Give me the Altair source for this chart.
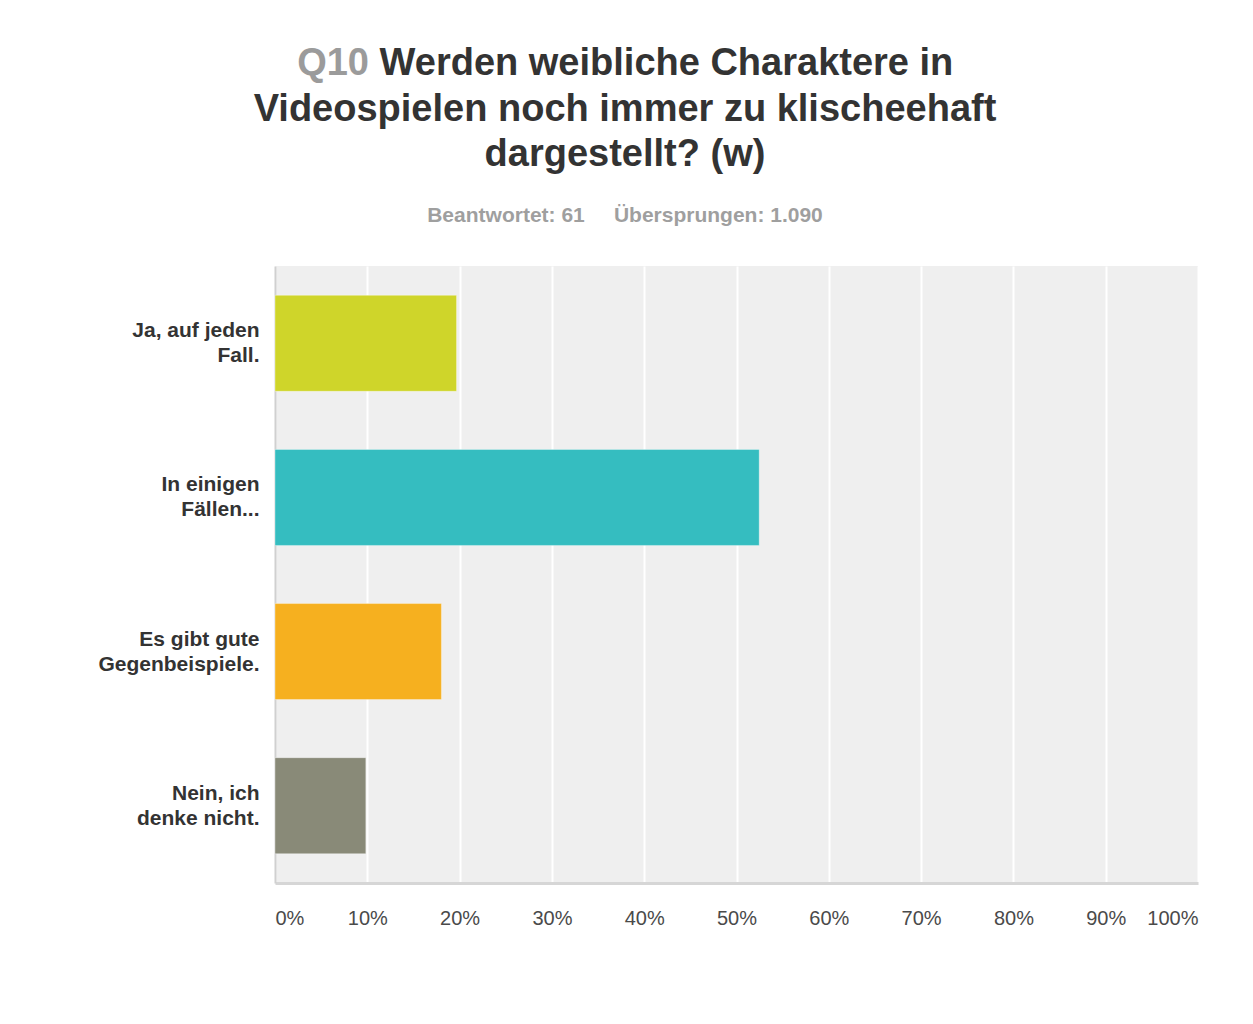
import altair as alt
import pandas as pd

categories = ["Ja, auf jeden\nFall.", "In einigen\nFällen...", "Es gibt gute\nGegenbeispiele.", "Nein, ich\ndenke nicht."]
percents = [19.67, 52.46, 18.03, 9.84]
colors = ["#cfd52a", "#35bdc0", "#f6b01f", "#898a78"]
x_ticks = [0, 10, 20, 30, 40, 50, 60, 70, 80, 90, 100]

title_q = "Q10"
title_line1 = "Werden weibliche Charaktere in"
title_line2 = "Videospielen noch immer zu klischeehaft"
title_line3 = "dargestellt? (w)"
subtitle = "Beantwortet: 61\u00a0\u00a0\u00a0\u00a0 Übersprungen: 1.090"

FONT = "Liberation Sans"

df = pd.DataFrame({"Antwort": categories, "Prozent": percents})

bars = alt.Chart(df).mark_bar(stroke="white", strokeOpacity=0.35, strokeWidth=1).encode(
    x=alt.X("Prozent:Q",
            scale=alt.Scale(domain=[0, 100], nice=False),
            axis=alt.Axis(values=x_ticks, title=None, labelExpr="datum.value + '%'",
                          labelFlush=True, ticks=False, tickSize=0, labelPadding=25,
                          labelFont=FONT, labelFontSize=20, labelColor="#4a4a4a",
                          grid=True, gridColor="white", gridWidth=2,
                          domainColor="#d6d6d6", domainWidth=3)),
    y=alt.Y("Antwort:N", sort=categories,
            scale=alt.Scale(paddingInner=0.377, paddingOuter=0.19),
            axis=alt.Axis(title=None, labelExpr="split(datum.label, '\\n')",
                          ticks=False, tickSize=0, labelPadding=16, labelLimit=400,
                          labelOffset=-12,
                          labelFont=FONT, labelFontSize=21, labelFontWeight="bold",
                          labelColor="#333333", labelLineHeight=25,
                          grid=False, domainColor="#d0d0d0", domainWidth=2)),
    color=alt.Color("Antwort:N", scale=alt.Scale(domain=categories, range=colors), legend=None),
)

tdf = pd.DataFrame({"q": [title_q], "l1": [title_line1], "l2": [title_line2],
                    "l3": [title_line3], "sub": [subtitle]})

def txt(field, x, y, color, size, align):
    return alt.Chart(tdf).mark_text(font=FONT, fontSize=size, fontWeight="bold",
                                    color=color, align=align, baseline="alphabetic").encode(
        text=f"{field}:N", x=alt.value(x), y=alt.value(y))

t_q = txt("q", 94, -191, "#9b9b9b", 38, "right")
t_1 = txt("l1", 104.6, -191, "#333333", 38, "left")
t_2 = txt("l2", 350, -145, "#333333", 38, "center")
t_3 = txt("l3", 350, -100, "#333333", 38, "center")
t_s = txt("sub", 350, -44, "#9f9f9f", 21, "center")

chart = alt.layer(bars, t_q, t_1, t_2, t_3, t_s).properties(
    width=923, height=617,
    autosize=alt.AutoSizeParams(type="none"),
    padding={"left": 275, "top": 266, "right": 55, "bottom": 141},
    background="white",
).configure_view(fill="#efefef", stroke=None)

chart.save("out.html", embed_options={"renderer": "svg", "actions": False})
